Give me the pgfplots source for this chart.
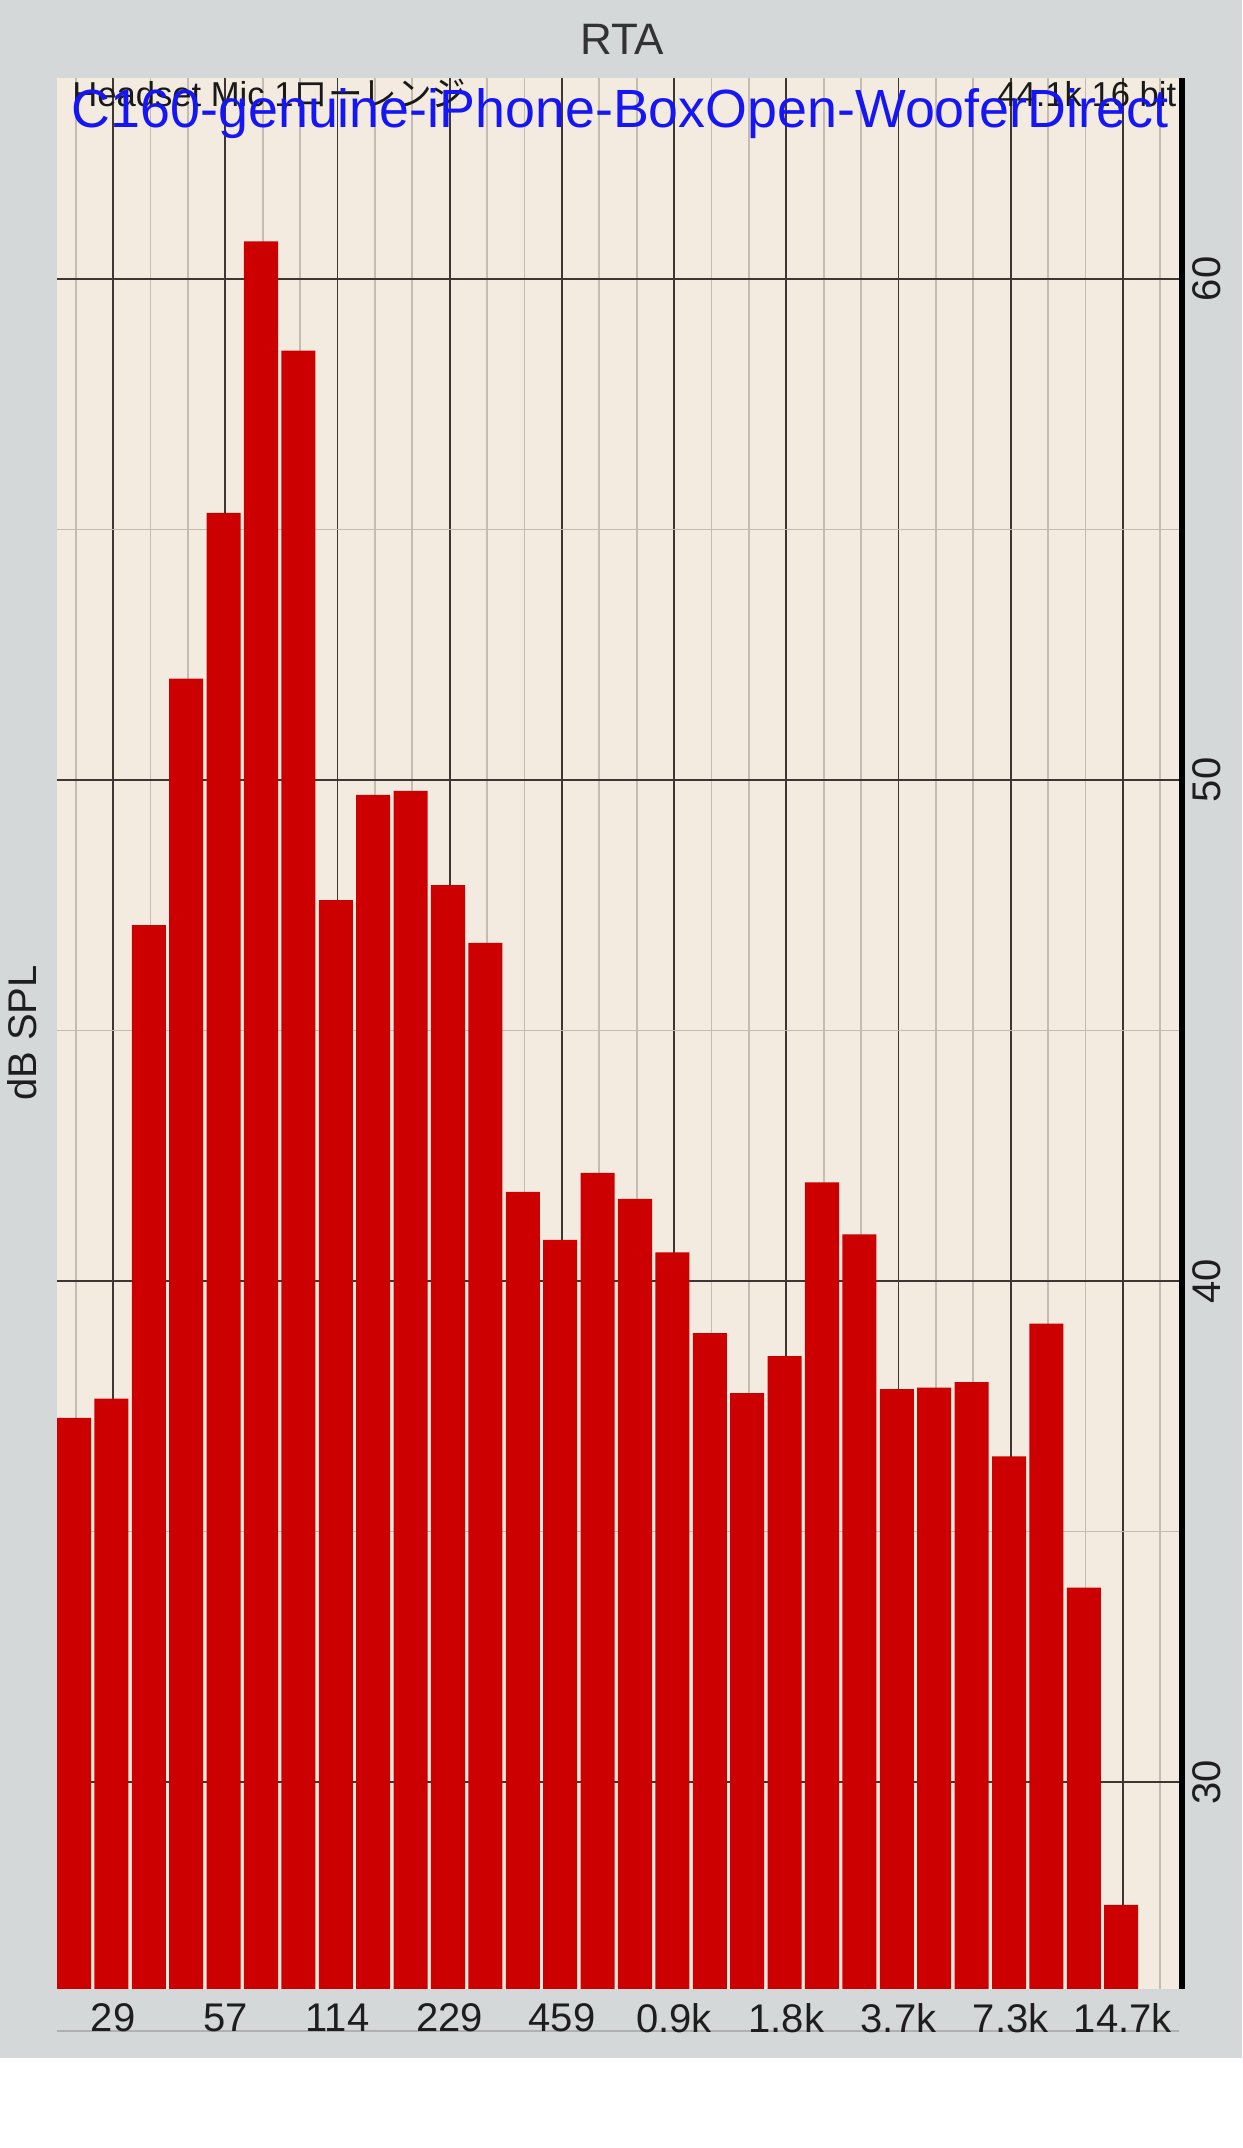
\documentclass[border=0pt]{standalone}
\usepackage{pgfplots}
\pgfplotsset{compat=1.18}
\usepackage{fontspec}
\setmainfont{Liberation Sans}
\newfontfamily\cjk{Noto Sans CJK JP}
\definecolor{outergray}{RGB}{213,216,216}
\definecolor{plotbg}{RGB}{243,235,224}
\definecolor{darkgrid}{RGB}{62,54,48}
\definecolor{lightgrid}{RGB}{196,188,178}
\definecolor{barred}{RGB}{204,0,0}
\definecolor{textblue}{RGB}{22,22,245}
\definecolor{ticktext}{RGB}{30,30,30}
\pgfplotstableread{
x y
0 37.27
1 37.65
2 47.10
3 52.02
4 55.33
5 60.75
6 58.57
7 47.60
8 49.70
9 49.78
10 47.90
11 46.75
12 41.78
13 40.82
14 42.16
15 41.64
16 40.57
17 38.96
18 37.76
19 38.50
20 41.97
21 40.93
22 37.84
23 37.87
24 37.98
25 36.50
26 39.15
27 33.88
28 27.55
}\rtadata
\begin{document}
\begin{tikzpicture}
\fill[white] (0pt,0pt) rectangle (310.5pt,537pt);
\fill[outergray] (0pt,22.5pt) rectangle (310.5pt,537pt);
\draw[color={rgb,255:red,176;green,176;blue,176}, line width=0.3pt] (14.25pt,29.25pt) -- (294.75pt,29.25pt);
\begin{axis}[
  at={(14.25pt,39.75pt)}, anchor=south west,
  scale only axis, width=280.5pt, height=477.75pt,
  xmin=-0.5, xmax=29.5, ymin=25.87, ymax=64.01,
  axis background/.style={fill=plotbg},
  axis line style={draw=none},
  major tick length=0pt, minor tick length=0pt,
  xtick={1,4,7,10,13,16,19,22,25,28},
  xticklabels={29,57,114,229,459,0.9k,1.8k,3.7k,7.3k,14.7k},
  minor xtick={0,2,3,5,6,8,9,11,12,14,15,17,18,20,21,23,24,26,27,29},
  ytick={30,40,50,60},
  yticklabels={30,40,50,60},
  minor ytick={35,45,55},
  xmajorgrids, xminorgrids, ymajorgrids, yminorgrids,
  major grid style={draw=darkgrid, line width=0.45pt},
  minor grid style={draw=lightgrid, line width=0.45pt},
  yticklabel pos=right,
  /pgf/number format/assume math mode=true,
  xticklabel style={anchor=center, inner sep=0pt, yshift=-7.25pt, text=ticktext, font=\fontsize{10pt}{12pt}\selectfont},
  yticklabel style={xshift=7pt, rotate=90, anchor=center, inner sep=0pt, text=ticktext, font=\fontsize{10pt}{12pt}\selectfont},
  ybar, bar width=0.91, bar shift=-0.425pt,
]
\addplot[fill=barred, draw=none] table[x=x, y=y] {\rtadata};
\end{axis}
\draw[black, line width=1.5pt] (295.5pt,39.75pt) -- (295.5pt,517.5pt);
\node[inner sep=0pt, text={rgb,255:red,51;green,51;blue,51}, font=\fontsize{11pt}{13pt}\selectfont] at (155.5pt,527.25pt) {RTA};
\node[rotate=90, inner sep=0pt, text=ticktext, font=\fontsize{10pt}{12pt}\selectfont] at (5.5pt,278.75pt) {dB SPL};
\node[anchor=base west, inner sep=0pt, text={rgb,255:red,25;green,25;blue,25}, font=\fontsize{8.65pt}{10pt}\selectfont] at (17.9pt,510.25pt) {Headset Mic 1{\cjk ローレンジ}};
\node[anchor=base east, inner sep=0pt, text={rgb,255:red,25;green,25;blue,25}, font=\fontsize{8.65pt}{10pt}\selectfont] at (294.25pt,510.25pt) {44.1k 16 bit};
\node[anchor=base west, inner sep=0pt, text=textblue, font=\fontsize{13.45pt}{15pt}\selectfont] at (17.75pt,505pt) {C160-genuine-iPhone-BoxOpen-WooferDirect};
\end{tikzpicture}
\end{document}
